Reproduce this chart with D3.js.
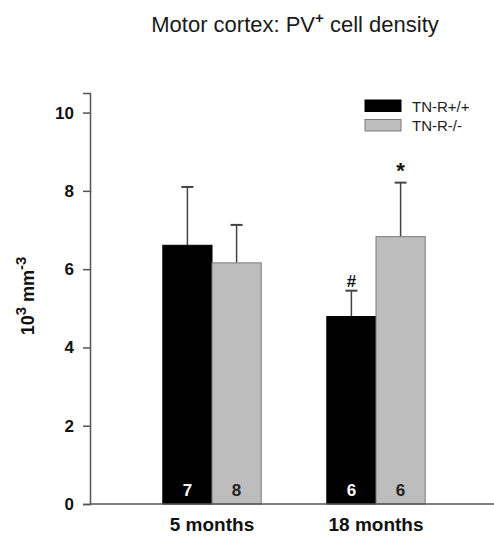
<!DOCTYPE html>
<html>
<head>
<meta charset="utf-8">
<script src="https://cdn.jsdelivr.net/npm/d3@7"></script>
<style>
  body { margin: 0; background: #fff; }
  text { font-family: Arial, "Liberation Sans", sans-serif; }
</style>
</head>
<body>
<div id="chart"></div>
<script>
// Groups, genotypes and values.
const groups = ["5 months", "18 months"];
const genotypes = ["TN-R+/+", "TN-R-/-"];
const means = [[6.61, 6.16], [4.79, 6.83]];
const errors = [[1.49, 0.97], [0.66, 1.38]];
const counts = [[7, 8], [6, 6]];
const marks = [["", ""], ["#", "*"]];
const yTicks = [0, 2, 4, 6, 8, 10];

const width = 494, height = 537;
const svg = d3.select("#chart").append("svg")
  .attr("width", width)
  .attr("height", height);

const fills = ["#000000", "#bdbdbd"];
const strokes = ["#000000", "#7a7a7a"];
const countColors = ["#ffffff", "#222222"];

// Scales.
const y = d3.scaleLinear().domain([0, 10.5]).range([504, 93]);
const x0 = d3.scaleBand().domain(groups).range([130, 458])
  .paddingInner(0.4).paddingOuter(0.2);
const x1 = d3.scaleBand().domain(genotypes).range([0, x0.bandwidth()]);

// Title with superscript.
const title = svg.append("text")
  .attr("x", 295)
  .attr("y", 32)
  .attr("text-anchor", "middle")
  .style("font-size", "22px")
  .attr("fill", "#1a1a1a");
title.append("tspan").text("Motor cortex: PV");
title.append("tspan").text("+").attr("dy", -9).style("font-size", "15px").style("font-weight", "bold");
title.append("tspan").text(" cell density").attr("dy", 9);

// Flatten data for bars.
const bars = [];
groups.forEach((g, i) => {
  genotypes.forEach((s, j) => {
    bars.push({ group: g, series: s, j: j, mean: means[i][j], err: errors[i][j],
      n: counts[i][j], mark: marks[i][j] });
  });
});

const barG = svg.append("g");
const bar = barG.selectAll("g.bar")
  .data(bars)
  .enter()
  .append("g")
  .attr("class", "bar")
  .attr("transform", d => `translate(${x0(d.group) + x1(d.series)},0)`);

const bw = x1.bandwidth();

// Error bars (upper only), drawn behind the bars.
bar.append("line")
  .attr("x1", bw / 2).attr("x2", bw / 2)
  .attr("y1", d => y(d.mean))
  .attr("y2", d => y(d.mean + d.err))
  .attr("stroke", "#444")
  .attr("stroke-width", 1.5);
bar.append("line")
  .attr("x1", bw / 2 - 6).attr("x2", bw / 2 + 6)
  .attr("y1", d => y(d.mean + d.err))
  .attr("y2", d => y(d.mean + d.err))
  .attr("stroke", "#444")
  .attr("stroke-width", 2);

bar.append("rect")
  .attr("x", 0)
  .attr("y", d => y(d.mean))
  .attr("width", bw)
  .attr("height", d => y(0) - y(d.mean))
  .attr("fill", d => fills[d.j])
  .attr("stroke", d => strokes[d.j])
  .attr("stroke-width", 1);

// Sample sizes inside bars.
bar.append("text")
  .attr("x", bw / 2)
  .attr("y", 496)
  .attr("text-anchor", "middle")
  .style("font-size", "17px")
  .style("font-weight", "bold")
  .attr("fill", d => countColors[d.j])
  .text(d => d.n);

// Significance marks.
bar.filter(d => d.mark)
  .append("text")
  .attr("x", bw / 2)
  .attr("y", d => y(d.mean + d.err) - (d.mark === "*" ? 5 : 4))
  .attr("text-anchor", "middle")
  .style("font-size", d => d.mark === "*" ? "22px" : "17px")
  .style("font-weight", "bold")
  .attr("fill", "#111")
  .text(d => d.mark);

// Y axis.
const yAxis = svg.append("g")
  .attr("transform", "translate(90,0)")
  .call(d3.axisLeft(y).tickValues(yTicks).tickSize(7).tickPadding(9));
yAxis.select(".domain").attr("stroke", "#555").attr("stroke-width", 1.5);
yAxis.selectAll(".tick line").attr("stroke", "#555").attr("stroke-width", 1.5);
yAxis.selectAll(".tick text")
  .style("font-size", "17px")
  .style("font-weight", "bold")
  .style("font-family", "Arial, 'Liberation Sans', sans-serif")
  .attr("fill", "#111");

// X axis line extends to the right edge.
svg.append("line")
  .attr("x1", 90).attr("x2", width)
  .attr("y1", y(0)).attr("y2", y(0))
  .attr("stroke", "#555")
  .attr("stroke-width", 1.5);

// Group labels.
svg.selectAll("text.group")
  .data(groups)
  .enter()
  .append("text")
  .attr("class", "group")
  .attr("x", d => x0(d) + x0.bandwidth() / 2)
  .attr("y", 531)
  .attr("text-anchor", "middle")
  .style("font-size", "19px")
  .style("font-weight", "bold")
  .attr("fill", "#111")
  .text(d => d);

// Y label: 10^3 mm^-3
const yl = svg.append("text")
  .attr("transform", "translate(34,296) rotate(-90)")
  .attr("text-anchor", "middle")
  .style("font-size", "18px")
  .style("font-weight", "bold")
  .attr("fill", "#111");
yl.append("tspan").text("10");
yl.append("tspan").text("3").attr("dy", -8).style("font-size", "15px");
yl.append("tspan").text(" mm").attr("dy", 8);
yl.append("tspan").text("-3").attr("dy", -8).style("font-size", "15px");

// Legend.
const legend = svg.append("g").attr("transform", "translate(365,100)");
genotypes.forEach((s, j) => {
  const row = legend.append("g").attr("transform", `translate(0,${j * 19.5})`);
  row.append("rect")
    .attr("width", 36).attr("height", 11.5)
    .attr("fill", fills[j])
    .attr("stroke", strokes[j]);
  row.append("text")
    .attr("x", 47).attr("y", 11.5)
    .style("font-size", "15px")
    .attr("fill", "#222")
    .text(s);
});
</script>
</body>
</html>
